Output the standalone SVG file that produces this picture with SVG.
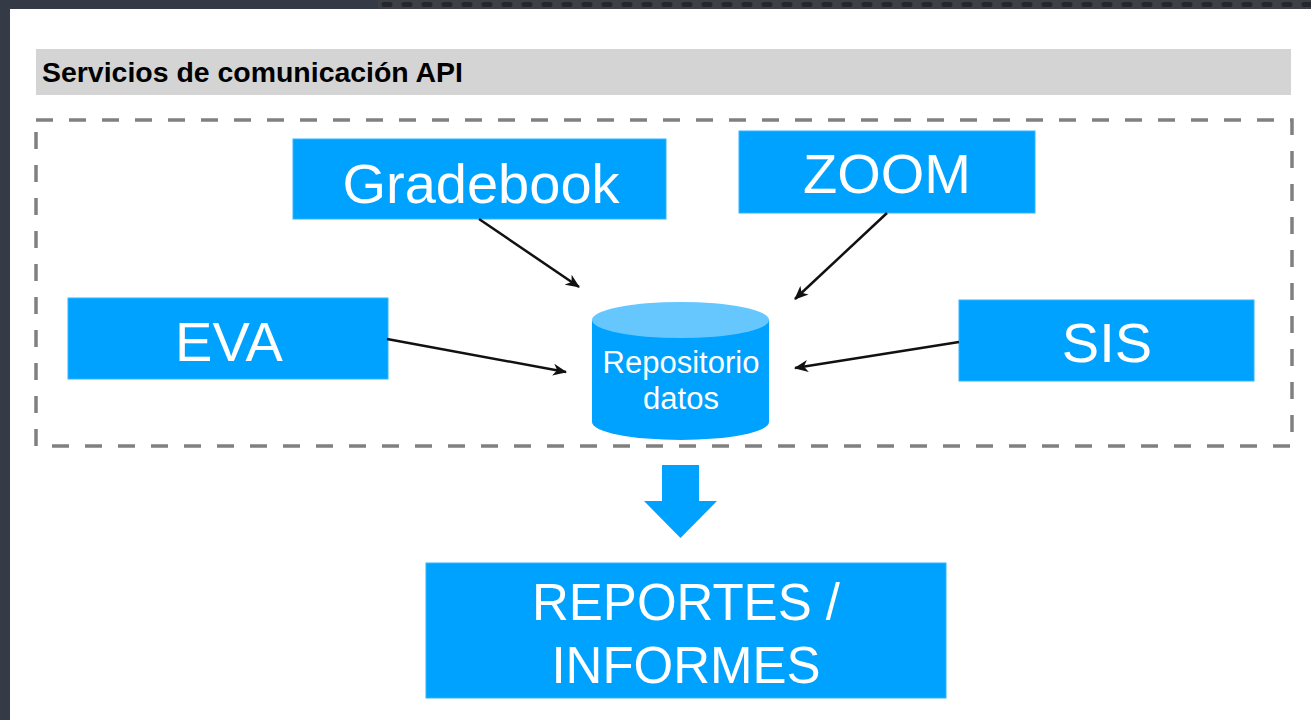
<svg xmlns="http://www.w3.org/2000/svg" width="1311" height="720" viewBox="0 0 1311 720">
<style>
.box{fill:#00a2ff;stroke:#33b5ff;stroke-width:1}
.lbl{font-family:"Liberation Sans",Arial,sans-serif;fill:#fff;text-anchor:middle}
.big{font-size:56px}
.conn{stroke:#111;stroke-width:2.5;fill:none;marker-end:url(#ah)}
</style>
<defs>
<marker id="ah" markerUnits="userSpaceOnUse" markerWidth="14" markerHeight="12" viewBox="0 0 14 12" refX="13" refY="6" orient="auto">
<path d="M0,0 L14,6 L0,12 L4,6 Z" fill="#111"/>
</marker>
</defs>
<rect x="0" y="0" width="1311" height="720" fill="#343a46"/>
<rect x="378" y="0" width="933" height="9" fill="#3d4046"/>
<line x1="384" y1="4.5" x2="1311" y2="4.5" stroke="#1f2226" stroke-width="5" stroke-dasharray="6 14" stroke-linecap="round" opacity="0.8"/>
<rect x="10" y="9" width="1301" height="711" fill="#ffffff"/>

<g id="header">
<rect x="36" y="49" width="1255" height="46" fill="#d4d4d4"/>
<text x="42" y="82" font-family="'Liberation Sans',Arial,sans-serif" font-size="28" font-weight="bold" fill="#000" textLength="421" lengthAdjust="spacingAndGlyphs">Servicios de comunicación API</text>
</g>

<g id="container">
<rect x="36" y="120" width="1256" height="326" fill="none" stroke="#808080" stroke-width="3.5" stroke-dasharray="17 16"/>
</g>

<g id="gradebook">
<rect class="box" x="293" y="139" width="373" height="80"/>
<text class="lbl big" x="481" y="203">Gradebook</text>
</g>

<g id="zoom">
<rect class="box" x="739" y="131" width="296" height="82"/>
<text class="lbl big" x="887" y="193">ZOOM</text>
</g>

<g id="eva">
<rect class="box" x="68" y="298" width="320" height="81"/>
<text class="lbl big" x="229" y="361">EVA</text>
</g>

<g id="sis">
<rect class="box" x="959" y="300" width="295" height="81"/>
<text class="lbl big" x="1107" y="362">SIS</text>
</g>

<g id="repositorio">
<path d="M592,320 L592,422 A88.5,18 0 0 0 769,422 L769,320 Z" fill="#00a2ff"/>
<ellipse cx="680.5" cy="320" rx="88.5" ry="18" fill="#66c7ff"/>
<text class="lbl" x="681" y="373" font-size="31">Repositorio</text>
<text class="lbl" x="681" y="409" font-size="31">datos</text>
</g>

<g id="reportes">
<rect class="box" x="426" y="563" width="520" height="135"/>
<text class="lbl" x="686" y="620" font-size="51">REPORTES /</text>
<text class="lbl" x="686" y="683" font-size="51">INFORMES</text>
</g>

<g id="connectors">
<line class="conn" x1="479" y1="219" x2="579" y2="287"/>
<line class="conn" x1="887" y1="213" x2="795" y2="299"/>
<line class="conn" x1="387" y1="339" x2="566" y2="372"/>
<line class="conn" x1="959" y1="342" x2="795" y2="368"/>
<path d="M662,465 L699,465 L699,501 L717,501 L680.5,538 L644,501 L662,501 Z" fill="#00a2ff"/>
</g>
</svg>
